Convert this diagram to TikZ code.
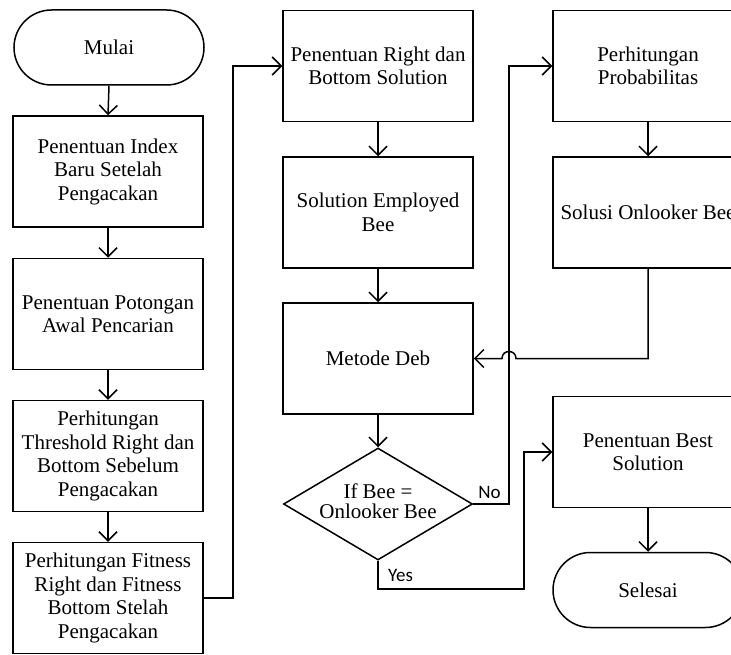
\documentclass[tikz,border=0pt]{standalone}
\usepackage{fontspec}
\setmainfont{Liberation Serif}
\newfontfamily\labfont{Carlito}
\usetikzlibrary{shapes.geometric,shapes.misc,arrows.meta,calc}

\begin{document}
\begin{tikzpicture}[x=1pt,y=-1pt,
  every node/.style={font=\fontsize{21}{23.5}\selectfont},
  box/.style={draw,line width=1.5pt,minimum width=190pt,minimum height=111pt,inner sep=0pt,align=center},
  term/.style={draw,line width=1.5pt,rounded rectangle,minimum width=190pt,minimum height=75pt,inner sep=0pt},
  dia/.style={draw,line width=1.5pt,diamond,minimum width=189pt,minimum height=112pt,inner sep=0pt},
  arr/.style={line width=1.5pt,-{Straight Barb[length=9pt,width=18pt]}},
  lab/.style={font=\labfont\fontsize{19}{22}\selectfont,inner sep=0pt,anchor=base west}
]
\useasboundingbox (0,0) rectangle (731,655);
\fill[white] (0,0) rectangle (731,655);
\clip (0,0) rectangle (731,655);

% column 1
\node[term] (start) at (109,47.5) {Mulai};
\node[box] (b1) at (108,171.5) {Penentuan Index\\Baru Setelah\\Pengacakan};
\node[box] (b2) at (108,314) {Penentuan Potongan\\Awal Pencarian};
\node[box] (b3) at (108,456) {Perhitungan\\Threshold Right dan\\Bottom Sebelum\\Pengacakan};
\node[box] (b4) at (108,598) {Perhitungan Fitness\\Right dan Fitness\\Bottom Stelah\\Pengacakan};

% column 2
\node[box] (r1) at (378,66) {Penentuan Right dan\\Bottom Solution};
\node[box] (r2) at (378,212.5) {Solution Employed\\Bee};
\node[box] (r3) at (378,358.5) {Metode Deb};
\node[dia] (dec) at (378,504) {\makebox[0pt]{\begin{tabular}{@{}c@{}}If Bee =\\[-3pt]Onlooker Bee\end{tabular}}};

% column 3
\node[box] (p1) at (648,66) {Perhitungan\\Probabilitas};
\node[box] (p2) at (648,212.5) {Solusi Onlooker Bee};
\node[box] (best) at (648,452) {Penentuan Best\\Solution};
\node[term] (end) at (648,590) {Selesai};

% helper coordinates
\coordinate (k1) at (233,0);
\coordinate (k2) at (509,0);
\coordinate (k3) at (524,589);
\coordinate (j) at (k2 |- r3.east);

% connectors
\draw[arr] (start.south) -- (b1.north);
\draw[arr] (b1.south) -- (b2.north);
\draw[arr] (b2.south) -- (b3.north);
\draw[arr] (b3.south) -- (b4.north);
\draw[arr] (b4.east) -| (k1 |- r1.west) -- (r1.west);
\draw[arr] (r1.south) -- (r2.north);
\draw[arr] (r2.south) -- (r3.north);
\draw[arr] (r3.south) -- (dec.north);
\draw[arr] (dec.east) -| (k2 |- p1.west) -- (p1.west);
\draw[arr] (p1.south) -- (p2.north);
\draw[arr] (p2.south) |- ($(j)+(7,0)$) .. controls ($(j)+(7,-9.33)$) and ($(j)+(-7,-9.33)$) .. ($(j)+(-7,0)$) -- (r3.east);
\draw[arr] (dec.south) |- (k3) |- (best.west);
\draw[arr] (best.south) -- (end.north);

\node[lab] (no) at ($(dec.east)+(5,-6)$) {No};
\node[lab] (yes) at ($(dec.south)+(10,21)$) {Yes};
\end{tikzpicture}
\end{document}
